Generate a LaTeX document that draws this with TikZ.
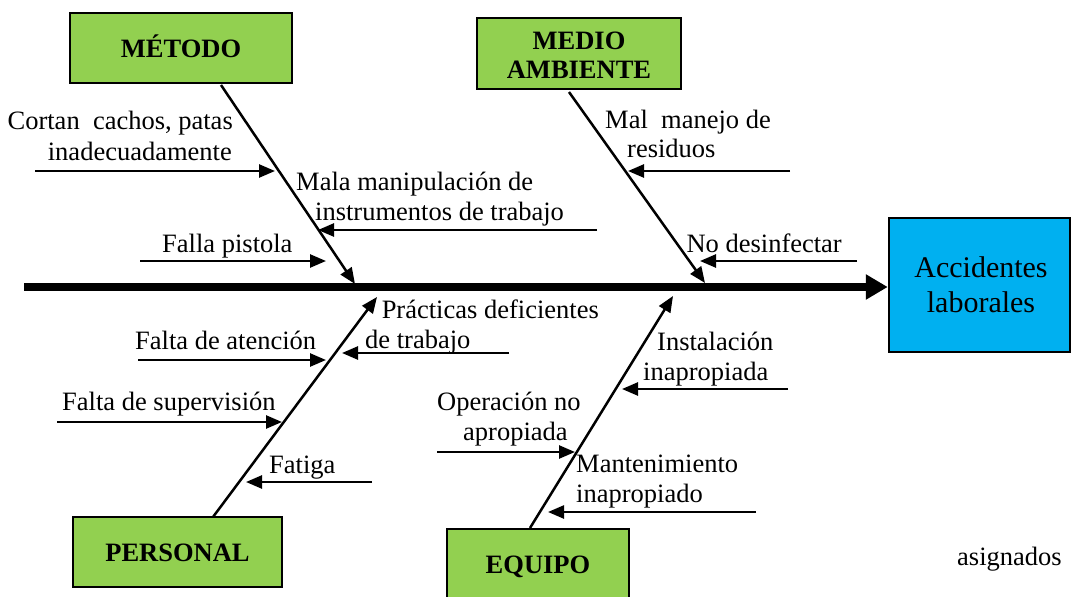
\documentclass[tikz,border=0pt]{standalone}
\usepackage{fontspec}
\setmainfont{Liberation Serif}
\usetikzlibrary{arrows.meta}
\definecolor{grn}{HTML}{92D050}
\definecolor{blu}{HTML}{00B0F0}
\begin{document}
\begin{tikzpicture}[x=1pt,y=-1pt,
  lbl/.style={inner sep=0pt, font=\fontsize{26.5}{30}\selectfont},
  bigtxt/.style={inner sep=0pt, font=\fontsize{30}{34}\selectfont},
  cattxt/.style={inner sep=0pt, font=\fontsize{26.5}{30}\selectfont\bfseries},
  catbox/.style={draw=black, line width=2.5pt, fill=grn, inner sep=0pt},
  effbox/.style={draw=black, line width=2.5pt, fill=blu, inner sep=0pt},
  bone/.style={line width=2.5pt, -{Triangle[length=16pt,width=13pt]}},
  subarrow/.style={line width=2.5pt, -{Triangle[length=16pt,width=13pt]}},
  spine/.style={line width=7.5pt, -{Triangle[length=22pt,width=24pt]}}]
\useasboundingbox (0,0) rectangle (1072,597);
\clip (0,0) rectangle (1072,597);

% category boxes
\node[catbox, minimum width=222pt, minimum height=70pt] (metodo) at (181,48) {};
\node[cattxt, anchor=base] (metodoT) at (181,57) {MÉTODO};
\node[catbox, minimum width=204pt, minimum height=71pt] (medio) at (579,53.5) {};
\node[cattxt, anchor=base] (medioT1) at (579,49) {MEDIO};
\node[cattxt, anchor=base] (medioT2) at (579,78) {AMBIENTE};
\node[catbox, minimum width=209pt, minimum height=70pt] (personal) at (177.5,552) {};
\node[cattxt, anchor=base] (personalT) at (177.5,561) {PERSONAL};
\node[catbox, minimum width=182pt, minimum height=91pt] (equipo) at (538,574.5) {};
\node[cattxt, anchor=base] (equipoT) at (538,573) {EQUIPO};

% effect box
\node[effbox, minimum width=181pt, minimum height=134pt] (acc) at (979.5,285) {};
\node[bigtxt, anchor=base] (accT1) at (981,277) {Accidentes};
\node[bigtxt, anchor=base] (accT2) at (981,312) {laborales};

% spine
\coordinate (sL) at (24,287);
\draw[spine] (sL) -- (sL -| acc.west);

% bones
\coordinate (b1s) at (221,85);  \coordinate (b1e) at (355,284);
\coordinate (b2s) at (569,92);  \coordinate (b2e) at (705,283);
\coordinate (b3s) at (213,517); \coordinate (b3e) at (377,297);
\coordinate (b4s) at (530,528); \coordinate (b4e) at (673,296);
\draw[bone] (b1s) -- (b1e);
\draw[bone] (b2s) -- (b2e);
\draw[bone] (b3s) -- (b3e);
\draw[bone] (b4s) -- (b4e);

% sub-cause arrows
\coordinate (a1s) at (35,171);  \coordinate (a1e) at (275,171);
\coordinate (a2s) at (140,261); \coordinate (a2e) at (326,261);
\coordinate (a3s) at (597,230); \coordinate (a3e) at (318,230);
\coordinate (a4s) at (790,171); \coordinate (a4e) at (628,171);
\coordinate (a5s) at (857,261); \coordinate (a5e) at (700,261);
\coordinate (a6s) at (509,353); \coordinate (a6e) at (342,353);
\coordinate (a7s) at (138,360); \coordinate (a7e) at (326,360);
\coordinate (a8s) at (57,422);  \coordinate (a8e) at (282,422);
\coordinate (a9s) at (372,482); \coordinate (a9e) at (246,482);
\coordinate (a10s) at (788,389); \coordinate (a10e) at (622,389);
\coordinate (a11s) at (437,452); \coordinate (a11e) at (575,452);
\coordinate (a12s) at (756,512); \coordinate (a12e) at (548,512);
\foreach \i in {1,...,12}{\draw[subarrow] (a\i s) -- (a\i e);}

% labels
\node[lbl, anchor=base east] (l1a) at (233,129) {Cortan\ \ cachos, patas};
\node[lbl, anchor=base east] (l1b) at (232,160) {inadecuadamente};
\node[lbl, anchor=base west] (l2) at (162,252) {Falla pistola};
\node[lbl, anchor=base west] (l3a) at (296,190) {Mala manipulación de};
\node[lbl, anchor=base west] (l3b) at (315,220) {instrumentos de trabajo};
\node[lbl, anchor=base west] (l4a) at (605,128) {Mal\ \ manejo de};
\node[lbl, anchor=base west] (l4b) at (627,157) {residuos};
\node[lbl, anchor=base east] (l5) at (842,252) {No desinfectar};
\node[lbl, anchor=base east] (l6a) at (599,318) {Prácticas deficientes};
\node[lbl, anchor=base west] (l6b) at (365,348) {de trabajo};
\node[lbl, anchor=base west] (l7) at (135,349) {Falta de atención};
\node[lbl, anchor=base west] (l8) at (62,410) {Falta de supervisión};
\node[lbl, anchor=base west] (l9) at (269,473) {Fatiga};
\node[lbl, anchor=base west] (l10a) at (657,350) {Instalación};
\node[lbl, anchor=base west] (l10b) at (643,380) {inapropiada};
\node[lbl, anchor=base west] (l11a) at (437,410) {Operación no};
\node[lbl, anchor=base west] (l11b) at (463,440) {apropiada};
\node[lbl, anchor=base west] (l12a) at (576,472) {Mantenimiento};
\node[lbl, anchor=base west] (l12b) at (576,502) {inapropiado};
\node[lbl, anchor=base west] (asig) at (957,565) {asignados};
\end{tikzpicture}
\end{document}
